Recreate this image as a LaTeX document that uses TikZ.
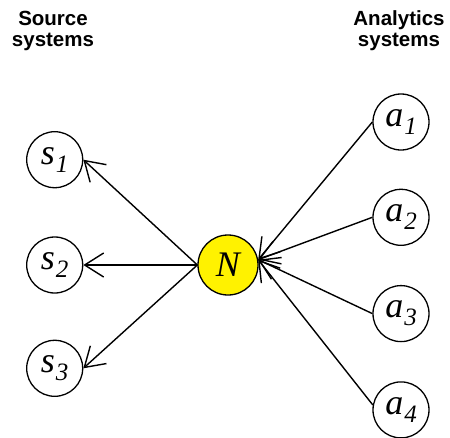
\documentclass[tikz,border=0pt]{standalone}
\usepackage{fontspec}
\setmainfont{Liberation Serif}
\newfontfamily\headfont{Liberation Sans Bold}
\usetikzlibrary{positioning, arrows.meta}

\tikzstyle{base} = [circle, draw=black, line width=1.3pt, inner sep=0pt, text centered, font=\itshape\fontsize{36}{36}\selectfont]
\tikzstyle{system} = [base, minimum size=56pt, fill=white]
\tikzstyle{hub} = [base, minimum size=60pt, fill=yellow]
\tikzstyle{heading} = [align=center, font=\headfont\fontsize{20.5}{21}\selectfont]
\tikzstyle{arrow} = [line width=1.4pt, -{Straight Barb[length=19pt, width=24pt]}]

\newcommand{\idx}[1]{\kern1pt\raisebox{-8pt}{\fontsize{25}{25}\selectfont #1}}

\begin{document}
\begin{tikzpicture}[x=1pt, y=-1pt]

\useasboundingbox (0,0) rectangle (450,437);

\node (N) [hub] at (228,265) {N};
\node (S2) [system, left=114pt of N] {s\idx{2}};
\node (S1) [system, above=48pt of S2] {s\idx{1}};
\node (S3) [system, below=46pt of S2] {s\idx{3}};

\node (A1) [system] at (401,122) {a\idx{1}};
\node (A2) [system, below=38pt of A1] {a\idx{2}};
\node (A3) [system, below=39pt of A2] {a\idx{3}};
\node (A4) [system, below=39pt of A3] {a\idx{4}};

\node (SOURCE) [heading] at (53,31) {Source\\systems};
\node (ANALYTICS) [heading] at (399,31) {Analytics\\systems};

\draw [arrow] (N.west) -- (S1.east);
\draw [arrow] (N.west) -- (S2.east);
\draw [arrow] (N.west) -- (S3.east);

\draw [arrow] (A1.west) -- (N.10);
\draw [arrow] (A2.west) -- (N.10);
\draw [arrow] (A3.west) -- (N.10);
\draw [arrow] (A4.170) -- (N.10);

\end{tikzpicture}
\end{document}
